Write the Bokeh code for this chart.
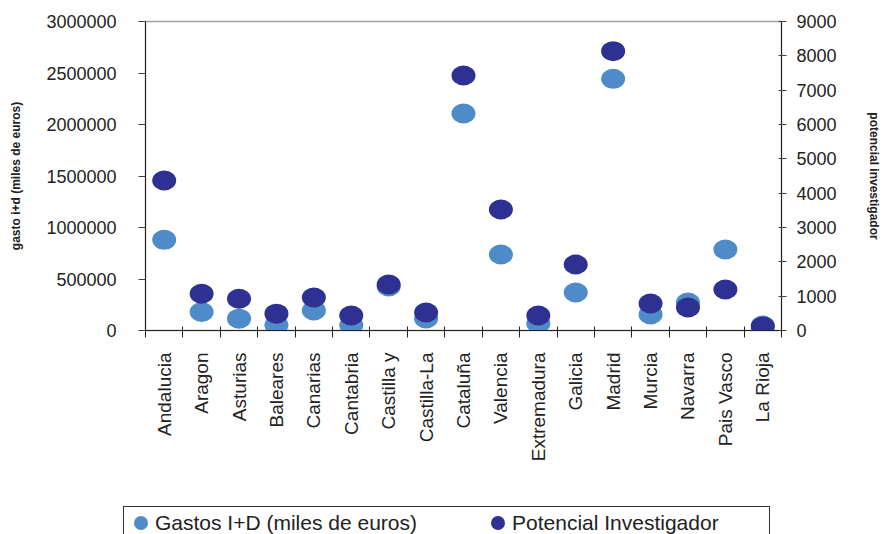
import numpy as np
from bokeh.plotting import figure
from bokeh.layouts import column
from bokeh.models import Range1d, LinearAxis, FixedTicker, Div
from bokeh.embed import file_html
from bokeh.resources import INLINE

categories = ["Andalucia", "Aragon", "Asturias", "Baleares", "Canarias", "Cantabria",
              "Castilla y", "Castilla-La", "Cataluña", "Valencia", "Extremadura",
              "Galicia", "Madrid", "Murcia", "Navarra", "Pais Vasco", "La Rioja"]
# gasto I+D, miles de euros (left axis)
gastos = [880000, 180000, 115000, 50000, 194000, 50000, 427000, 117000, 2107000,
          738000, 68000, 369000, 2443000, 155000, 272000, 786000, 49000]
# potencial investigador (right axis)
potencial = [4369, 1070, 925, 490, 961, 437, 1340, 524, 7428, 3524, 437, 1922,
             8136, 786, 670, 1194, 117]
left_ticks = [0, 500000, 1000000, 1500000, 2000000, 2500000, 3000000]
right_ticks = [0, 1000, 2000, 3000, 4000, 5000, 6000, 7000, 8000, 9000]
series_names = ["Gastos I+D (miles de euros)", "Potencial Investigador"]

LIGHT = "#4f8bc9"
DARK = "#2e3192"
FONT = "Liberation Sans"
TXT = "#222222"

n = len(categories)
xs = np.arange(n) + 0.5

p = figure(width=883, height=504, output_backend="svg", toolbar_location=None,
           x_range=Range1d(0, n), y_range=Range1d(0, 3000000),
           min_border_left=145, min_border_right=94, min_border_top=21,
           min_border_bottom=174, x_axis_type=None, y_axis_type=None)
p.extra_y_ranges = {"right": Range1d(0, 9000)}
p.xgrid.visible = False
p.ygrid.visible = False
p.outline_line_color = "#a0a0a0"
p.outline_line_width = 1.5
p.background_fill_color = "white"
p.border_fill_color = "white"

# category axis: labels centred in each slot, tick marks on slot boundaries
xaxis = LinearAxis(ticker=FixedTicker(ticks=list(xs), minor_ticks=list(range(n + 1))))
xaxis.major_label_overrides = {float(x): c for x, c in zip(xs, categories)}
xaxis.major_label_orientation = np.pi / 2
xaxis.major_tick_out = 0
xaxis.major_tick_in = 0
xaxis.minor_tick_out = 7
xaxis.minor_tick_in = 4
xaxis.minor_tick_line_color = "#222222"
xaxis.major_label_standoff = 15
xaxis.major_label_text_font = FONT
xaxis.major_label_text_font_size = "19px"
xaxis.major_label_text_color = TXT
xaxis.axis_line_color = "#222222"
p.add_layout(xaxis, "below")

yaxis = LinearAxis(ticker=FixedTicker(ticks=left_ticks),
                   axis_label="gasto i+d (miles de euros)")
yaxis.major_label_overrides = {t: str(t) for t in left_ticks}
yaxis.major_tick_out = 7
yaxis.major_tick_in = 0
yaxis.minor_tick_out = 0
yaxis.minor_tick_in = 0
yaxis.major_label_standoff = 22
yaxis.major_label_text_font = FONT
yaxis.major_label_text_font_size = "18px"
yaxis.major_label_text_color = TXT
yaxis.axis_line_color = "#222222"
yaxis.major_tick_line_color = "#444444"
yaxis.axis_label_text_font = FONT
yaxis.axis_label_text_font_size = "12px"
yaxis.axis_label_text_font_style = "bold"
yaxis.axis_label_text_color = TXT
yaxis.axis_label_standoff = 20
p.add_layout(yaxis, "left")

raxis = LinearAxis(y_range_name="right", ticker=FixedTicker(ticks=right_ticks),
                   axis_label="potencial investigador")
raxis.major_label_overrides = {t: str(t) for t in right_ticks}
raxis.major_tick_out = 5
raxis.major_tick_in = 3
raxis.minor_tick_out = 0
raxis.minor_tick_in = 0
raxis.major_label_standoff = 10
raxis.major_label_text_font = FONT
raxis.major_label_text_font_size = "18px"
raxis.major_label_text_color = TXT
raxis.axis_line_color = "#222222"
raxis.major_tick_line_color = "#444444"
raxis.axis_label_text_font = FONT
raxis.axis_label_text_font_size = "12px"
raxis.axis_label_text_font_style = "bold"
raxis.axis_label_text_color = TXT
raxis.axis_label_standoff = 27
p.add_layout(raxis, "right")

p.ellipse(x=xs, y=gastos, width=24, height=20, width_units="screen",
          height_units="screen", fill_color=LIGHT, line_color=None)
p.ellipse(x=xs, y=potencial, width=24, height=20, width_units="screen",
          height_units="screen", fill_color=DARK, line_color=None,
          y_range_name="right")

# legend strip under the chart (box runs past the bottom edge)
def swatch(left, color):
    return (f'<span style="position:absolute;left:{left}px;top:9px;width:14px;'
            f'height:14px;border-radius:50%;background:{color};"></span>')

def entry(left, text):
    return (f'<span style="position:absolute;left:{left}px;top:4px;'
            f'line-height:24px;">{text}</span>')

legend_html = (
    f'<div style="position:relative;margin:2px 0 0 123px;width:647px;height:44px;'
    f'border:1px solid #333333;box-sizing:border-box;background:white;'
    f'font-family:\'{FONT}\';font-size:21px;color:{TXT};white-space:nowrap;">'
    + swatch(10, LIGHT) + entry(31, series_names[0])
    + swatch(367, DARK) + entry(388, series_names[1])
    + '</div>'
)
legend_div = Div(text=legend_html, width=883, height=30,
                 styles={"overflow": "hidden", "margin": "0", "padding": "0"})

open("out.html", "w").write(file_html(column(p, legend_div, spacing=0), INLINE))
